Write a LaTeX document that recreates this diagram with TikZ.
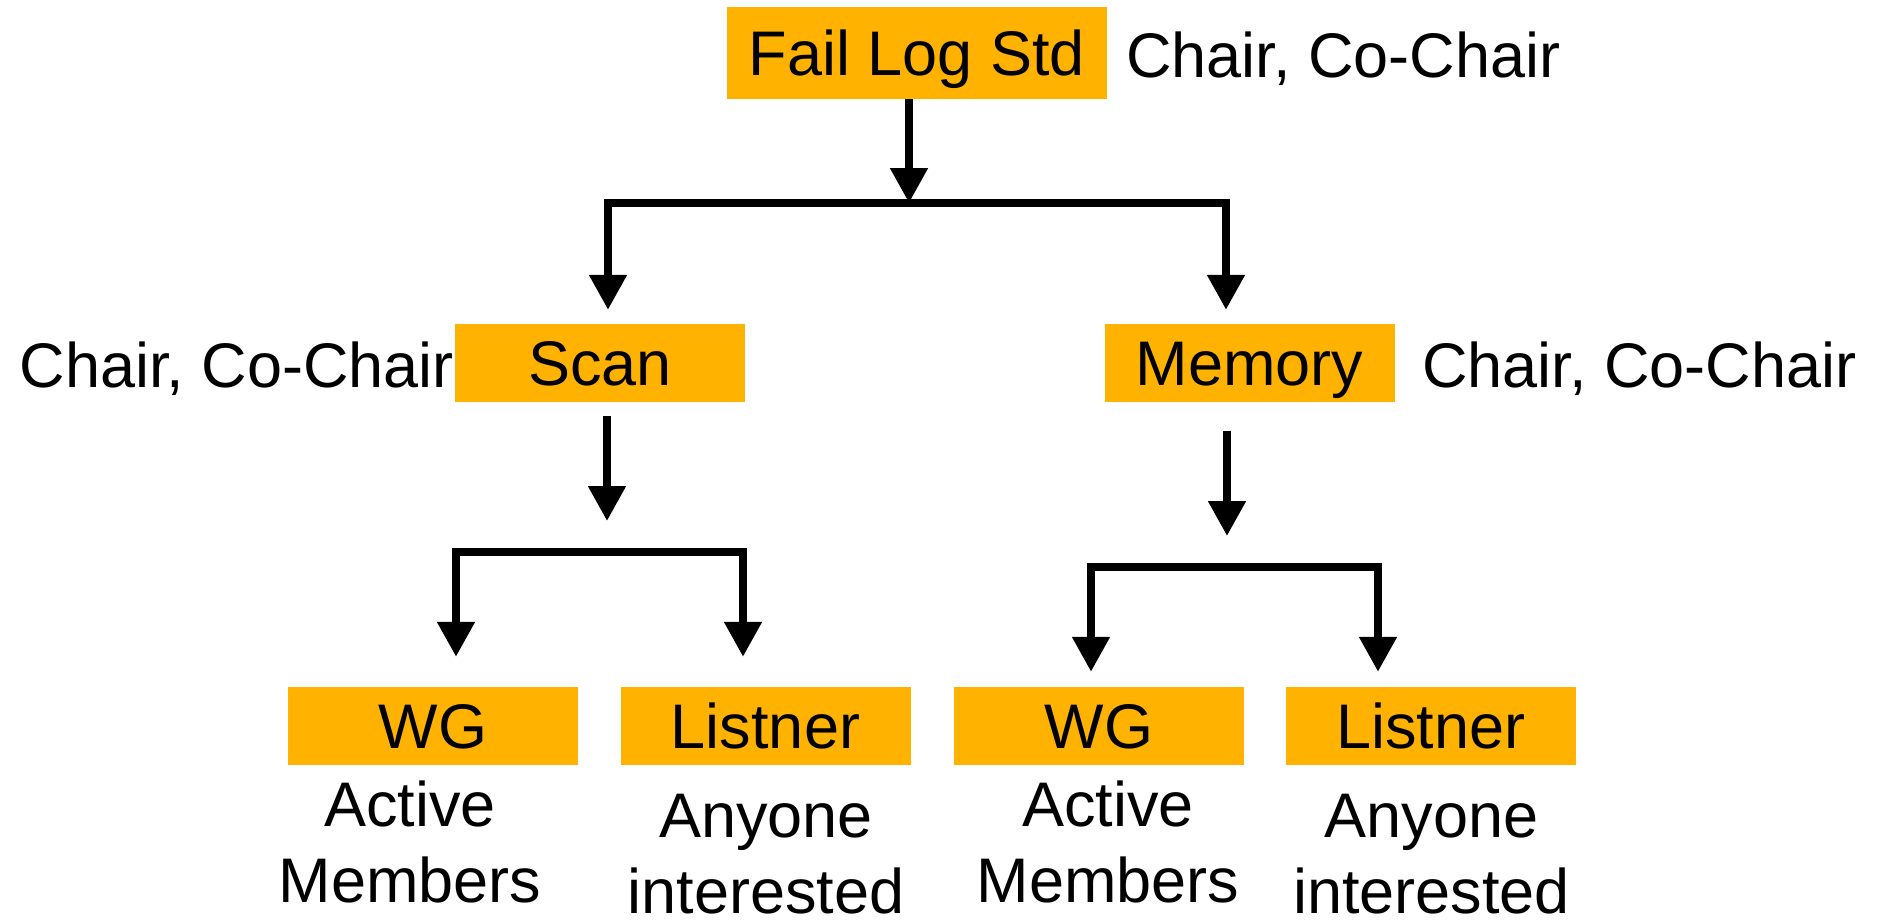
\documentclass[tikz,border=0pt]{standalone}
\usepackage{fontspec}
\setmainfont{Liberation Sans}
\usetikzlibrary{arrows.meta}
\definecolor{boxorange}{HTML}{FFB300}
\begin{document}
\begin{tikzpicture}[x=1pt,y=-1pt,
  box/.style={fill=boxorange, inner sep=0pt, minimum width=290pt, minimum height=78pt,
    text height=45pt, text depth=0pt, font=\fontsize{63}{76}\selectfont},
  lbl/.style={inner sep=0pt, font=\fontsize{63}{76}\selectfont},
  conn/.style={line width=8pt, line cap=rect},
  arr/.style={line width=8pt, -{Triangle[width=36pt,length=35pt]}}]
\useasboundingbox (0,0) rectangle (1887,921);

% boxes
\node[box, minimum width=380pt, minimum height=92pt] (fail) at (917,53) {Fail Log Std};
\node[box] (scan) at (600,363) {Scan};
\node[box] (mem) at (1249.5,363) {Memory};
\node[box] (wg1) at (433,726) {WG};
\node[box] (ls1) at (765.5,726) {Listner};
\node[box] (wg2) at (1099,726) {WG};
\node[box] (ls2) at (1431,726) {Listner};

% side labels
\node[lbl, anchor=base west] (c0) at (1126,77) {Chair, Co-Chair};
\node[lbl, anchor=base east] (c1) at (454,387) {Chair, Co-Chair};
\node[lbl, anchor=base west] (c2) at (1422,387) {Chair, Co-Chair};

% sub labels
\node[lbl, align=center] (s1) at (410,841.5) {Active\\Members};
\node[lbl, align=center] (s2) at (766,854.5) {Anyone\\interested};
\node[lbl, align=center] (s3) at (1108,841.5) {Active\\Members};
\node[lbl, align=center] (s4) at (1431.5,854.5) {Anyone\\interested};

% junction coordinates
\coordinate (j1) at (909,203);
\coordinate (h1l) at (608,203);
\coordinate (h1r) at (1226,203);
\coordinate (j2) at (607,521);
\coordinate (h2l) at (456,552);
\coordinate (h2r) at (743,552);
\coordinate (j3) at (1227,536);
\coordinate (h3l) at (1091,567);
\coordinate (h3r) at (1378,567);

% level 1
\draw[arr] (fail.south -| j1) -- (j1);
\draw[conn] (h1l) -- (h1r);
\draw[arr, shorten >=14pt] (h1l) -- (h1l |- scan.north);
\draw[arr, shorten >=14pt] (h1r) -- (h1r |- mem.north);

% scan branch
\draw[arr, shorten <=14pt] (scan.south -| j2) -- (j2);
\draw[conn] (h2l) -- (h2r);
\draw[arr, shorten >=30pt] (h2l) -- (h2l |- wg1.north);
\draw[arr, shorten >=30pt] (h2r) -- (h2r |- ls1.north);

% memory branch
\draw[arr, shorten <=29pt] (mem.south -| j3) -- (j3);
\draw[conn] (h3l) -- (h3r);
\draw[arr, shorten >=15pt] (h3l) -- (h3l |- wg2.north);
\draw[arr, shorten >=15pt] (h3r) -- (h3r |- ls2.north);
\end{tikzpicture}
\end{document}
